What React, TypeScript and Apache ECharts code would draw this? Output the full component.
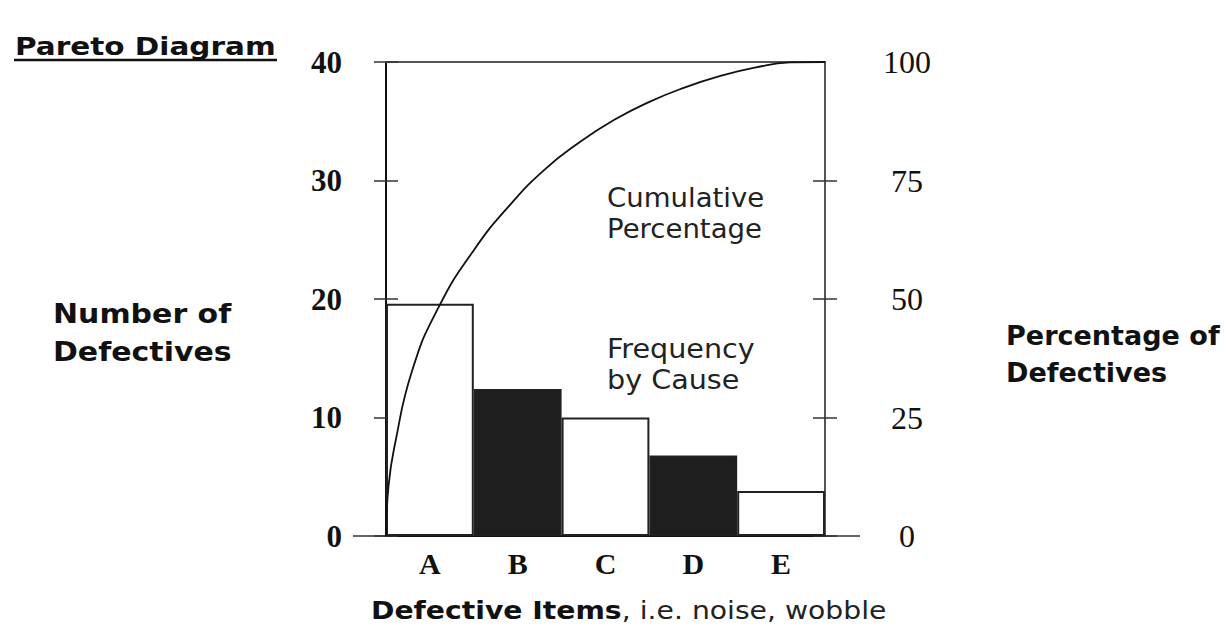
import React, { useEffect, useRef } from "react";
import * as echarts from "echarts";

const categories = ["A", "B", "C", "D", "E"];
const defectCounts = [19.6, 12.4, 10.0, 6.8, 3.8];
const barFills = ["#ffffff", "#1e1e1e", "#ffffff", "#1e1e1e", "#ffffff"];

// cumulative percentage curve, x in category units (0 = left edge, 5 = right edge)
const cumulativeX = [0, 0.03, 0.1, 0.3, 0.6, 1.0, 1.4, 1.8, 2.2, 2.6, 3.0, 3.4, 3.8, 4.2, 4.6, 5];
const cumulativePct = [0, 10.8, 19.2, 35.0, 48.3, 60.3, 69.6, 77.2, 83.0, 87.8, 91.6, 94.6, 97.0, 98.8, 99.9, 100];

const leftMax = 40;
const leftInterval = 10;
const rightMax = 100;
const rightInterval = 25;

const SANS = '"DejaVu Sans", Verdana, sans-serif';
const SERIF = '"Liberation Serif", "Times New Roman", serif';

export default function App() {
  const ref = useRef<HTMLDivElement>(null);
  useEffect(() => {
    if (!ref.current) return;
    const chart = echarts.init(ref.current, null, { renderer: "svg" });
    const leftLabel = { fontFamily: SERIF, fontWeight: "bold" as const, fontSize: 31, color: "#111" };
    chart.setOption({
      animation: false,
      backgroundColor: "#ffffff",
      grid: { left: 386, right: 403, top: 62, bottom: 95 },
      xAxis: [
        {
          type: "category",
          data: categories,
          position: "bottom",
          axisLine: { show: true, lineStyle: { color: "#111", width: 2 } },
          axisTick: { show: false },
          axisLabel: { ...leftLabel, fontSize: 30, margin: 12 },
          splitLine: { show: false },
        },
        {
          type: "value",
          min: 0,
          max: 5,
          position: "top",
          axisLine: { show: true, onZero: false, lineStyle: { color: "#555", width: 2 } },
          axisTick: { show: false },
          axisLabel: { show: false },
          splitLine: { show: false },
        },
      ],
      yAxis: [
        {
          type: "value",
          min: 0,
          max: leftMax,
          interval: leftInterval,
          position: "left",
          axisLine: { show: true, lineStyle: { color: "#111", width: 2 } },
          axisTick: { show: true, inside: false, length: 12, lineStyle: { color: "#333", width: 1.5 } },
          axisLabel: { ...leftLabel, margin: 44 },
          splitLine: { show: false },
        },
        {
          type: "value",
          min: 0,
          max: leftMax,
          interval: leftInterval,
          position: "left",
          axisLine: { show: false },
          axisTick: { show: true, inside: true, length: 12, lineStyle: { color: "#333", width: 1.5 } },
          axisLabel: { show: false },
          splitLine: { show: false },
        },
        {
          type: "value",
          min: 0,
          max: rightMax,
          interval: rightInterval,
          position: "right",
          axisLine: { show: true, lineStyle: { color: "#555", width: 2 } },
          axisTick: { show: true, inside: false, length: 12, customValues: [0, 25, 50, 75], lineStyle: { color: "#333", width: 1.5 } },
          axisLabel: { fontFamily: SERIF, fontSize: 32, color: "#111", margin: 82, align: "center" },
          splitLine: { show: false },
        },
        {
          type: "value",
          min: 0,
          max: rightMax,
          interval: rightInterval,
          position: "right",
          axisLine: { show: false },
          axisTick: { show: true, inside: true, length: 12, customValues: [0, 25, 50, 75], lineStyle: { color: "#333", width: 1.5 } },
          axisLabel: { show: false },
          splitLine: { show: false },
        },
      ],
      series: [
        {
          type: "bar",
          xAxisIndex: 0,
          yAxisIndex: 0,
          barCategoryGap: "0%",
          data: categories.map((c, i) => ({
            name: c,
            value: defectCounts[i],
            itemStyle: { color: barFills[i], borderColor: "#222", borderWidth: 2 },
          })),
          z: 2,
        },
        {
          type: "line",
          xAxisIndex: 1,
          yAxisIndex: 2,
          data: cumulativeX.map((x, i) => [x, cumulativePct[i]]),
          showSymbol: false,
          smooth: 0.5,
          lineStyle: { color: "#111", width: 1.8 },
          z: 5,
        },
      ],
      graphic: [
        { type: "line", shape: { x1: 353, y1: 536, x2: 386, y2: 536 }, style: { stroke: "#666", lineWidth: 2 } },
        { type: "line", shape: { x1: 825, y1: 536, x2: 860, y2: 536 }, style: { stroke: "#666", lineWidth: 2 } },
        {
          type: "text",
          x: 15,
          y: 34,
          scaleX: 1.18,
          style: { text: "Pareto Diagram", fontFamily: SANS, fontWeight: "bold", fontSize: 25, fill: "#111" },
        },
        { type: "line", shape: { x1: 14, y1: 60, x2: 277, y2: 60 }, style: { stroke: "#111", lineWidth: 2.5 } },
        {
          type: "text",
          x: 53,
          y: 295,
          scaleX: 1.11,
          style: { text: "Number of\nDefectives", fontFamily: SANS, fontWeight: "bold", fontSize: 27, lineHeight: 38, fill: "#111" },
        },
        {
          type: "text",
          x: 1006,
          y: 317,
          scaleX: 1.04,
          style: { text: "Percentage of\nDefectives", fontFamily: SANS, fontWeight: "bold", fontSize: 26, lineHeight: 37, fill: "#111" },
        },
        {
          type: "text",
          x: 607,
          y: 182,
          scaleX: 1.06,
          style: { text: "Cumulative\nPercentage", fontFamily: SANS, fontSize: 26, lineHeight: 31, fill: "#222" },
        },
        {
          type: "text",
          x: 607,
          y: 333,
          scaleX: 1.1,
          style: { text: "Frequency\nby Cause", fontFamily: SANS, fontSize: 26, lineHeight: 31, fill: "#222" },
        },
        {
          type: "text",
          x: 371,
          y: 598,
          scaleX: 1.13,
          style: {
            text: "{b|Defective Items}{r|, i.e. noise, wobble}",
            rich: {
              b: { fontFamily: SANS, fontWeight: "bold", fontSize: 25, fill: "#111", color: "#111" },
              r: { fontFamily: SANS, fontSize: 25, fill: "#222", color: "#222" },
            },
          },
        },
      ],
    });
    return () => chart.dispose();
  }, []);
  return <div ref={ref} style={{ position: "fixed", left: 0, top: 0, width: 1228, height: 631 }} />;
}
